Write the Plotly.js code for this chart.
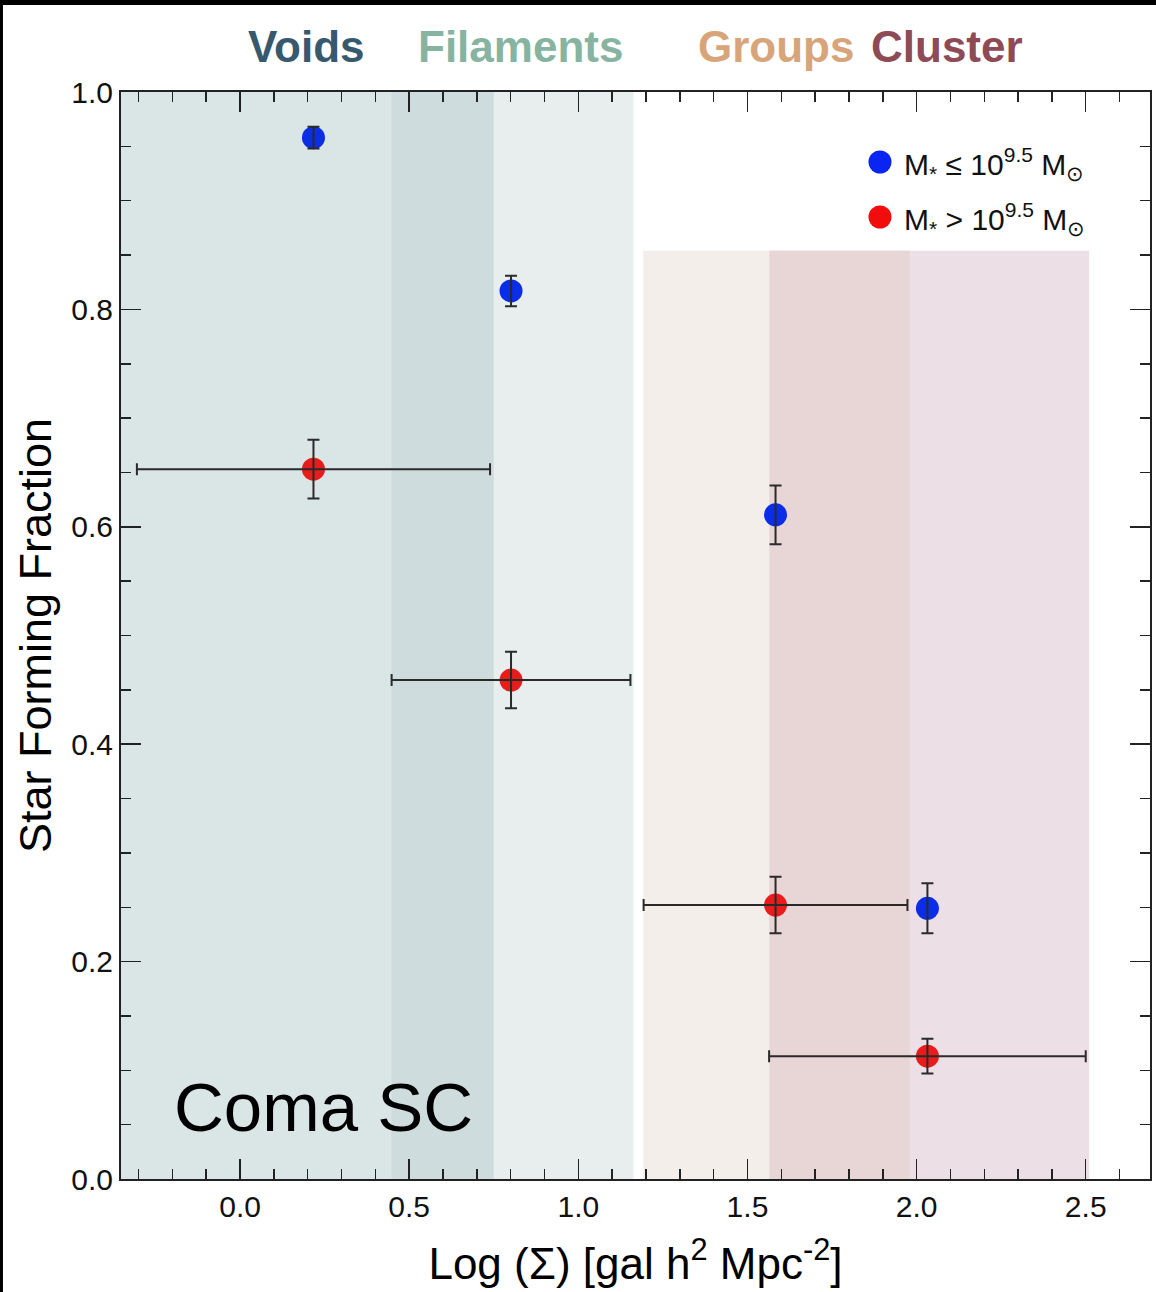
<!DOCTYPE html>
<html>
<head>
<meta charset="utf-8">
<script src="https://cdn.plot.ly/plotly-3.0.1.min.js"></script>
<style>
  html, body { margin: 0; padding: 0; background: #ffffff; }
  #chart { width: 1156px; height: 1292px; }
</style>
</head>
<body>
<div id="chart"></div>
<script>
// ---------------- data ----------------
const binCenters = [0.217, 0.801, 1.583, 2.032];          // Log(Sigma) bin centres
const lowMassFrac = [0.958, 0.817, 0.611, 0.249];         // M* <= 10^9.5
const lowMassErr  = [0.010, 0.014, 0.027, 0.023];
const highMassFrac = [0.653, 0.459, 0.252, 0.113];        // M* > 10^9.5
const highMassErr  = [0.027, 0.026, 0.026, 0.016];
const binHalfWidth = [0.522, 0.353, 0.390, 0.468];        // horizontal error bars

const seriesNames = [
  'M<sub>*</sub> \u2264 10<sup>9.5</sup> M<sub>\u2299</sub>',
  'M<sub>*</sub> > 10<sup>9.5</sup> M<sub>\u2299</sub>'
];

const environments = ['Voids', 'Filaments', 'Groups', 'Cluster'];
const envStart = [-0.352, 0.447, 1.192, 1.565];
const envEnd   = [0.750, 1.163, 1.980, 2.510];
const envTop   = [1.0, 1.0, 0.854, 0.854];
const envLabelX = [0.195, 0.828, 1.583, 2.090];

const xTickVals = [0, 0.5, 1.0, 1.5, 2.0, 2.5];
const xTickText = ['0.0', '0.5', '1.0', '1.5', '2.0', '2.5'];
const yTickVals = [0, 0.2, 0.4, 0.6, 0.8, 1.0];
const yTickText = ['0.0', '0.2', '0.4', '0.6', '0.8', '1.0'];

// ---------------- styles ----------------
const FONT = '"Liberation Sans", Arial, Helvetica, sans-serif';
const envFill = ['#dae5e6', '#e8eeee', '#f3eee9', '#ece0e6'];
const overlapFill = ['#cfdcdd', '#e8d6d7'];
const envText = ['#36596e', '#87b4a1', '#d8a479', '#8e4a55'];
const blue = '#0b2de6', red = '#e81c1c';
const legendBlue = '#0a24f2', legendRed = '#f20d0d';
const errColor = '#2a2a2a';
const AX = '#222222';

// ---------------- traces ----------------
const traces = [
  { x: binCenters, y: lowMassFrac, type: 'scatter', mode: 'markers', name: seriesNames[0],
    marker: { color: blue, size: 23 }, hoverinfo: 'x+y' },
  { x: binCenters, y: highMassFrac, type: 'scatter', mode: 'markers', name: seriesNames[1],
    marker: { color: red, size: 23 }, hoverinfo: 'x+y' },
  // error bars drawn above the markers
  { x: binCenters, y: lowMassFrac, type: 'scatter', mode: 'markers', showlegend: false,
    marker: { color: blue, size: 23, opacity: 0 }, hoverinfo: 'skip',
    error_y: { type: 'data', array: lowMassErr, color: errColor, thickness: 2, width: 6 } },
  { x: binCenters, y: highMassFrac, type: 'scatter', mode: 'markers', showlegend: false,
    marker: { color: red, size: 23, opacity: 0 }, hoverinfo: 'skip',
    error_y: { type: 'data', array: highMassErr, color: errColor, thickness: 2, width: 6 },
    error_x: { type: 'data', array: binHalfWidth, color: errColor, thickness: 2, width: 6 } }
];

// ---------------- shapes ----------------
const shapes = [];
environments.forEach((e, i) => {
  shapes.push({ type: 'rect', xref: 'x', yref: 'y', x0: envStart[i], x1: envEnd[i],
    y0: 0, y1: envTop[i], fillcolor: envFill[i], line: { width: 0 }, layer: 'below' });
});
// overlaps: Voids/Filaments and Groups/Cluster
[[0, 1], [2, 3]].forEach((p, k) => {
  const a = p[0], b = p[1];
  shapes.push({ type: 'rect', xref: 'x', yref: 'y',
    x0: Math.max(envStart[a], envStart[b]), x1: Math.min(envEnd[a], envEnd[b]),
    y0: 0, y1: Math.min(envTop[a], envTop[b]), fillcolor: overlapFill[k],
    line: { width: 0 }, layer: 'below' });
});
// custom legend markers
const legendY = [0.9356, 0.885];
[legendBlue, legendRed].forEach((c, i) => {
  shapes.push({ type: 'circle', xref: 'paper', yref: 'paper', xsizemode: 'pixel', ysizemode: 'pixel',
    xanchor: 0.7376, yanchor: legendY[i], x0: -11.5, x1: 11.5, y0: -11.5, y1: 11.5,
    fillcolor: c, line: { width: 0 }, layer: 'above' });
});
// black frame edges of the original picture
shapes.push({ type: 'rect', xref: 'paper', yref: 'paper', x0: -0.2, x1: 1.2, y0: 1.0800, y1: 1.2,
  fillcolor: '#000', line: { width: 0 }, layer: 'above' });
shapes.push({ type: 'rect', xref: 'paper', yref: 'paper', x0: -0.2, x1: -0.1147, y0: -0.2, y1: 1.2,
  fillcolor: '#000', line: { width: 0 }, layer: 'above' });

// ---------------- annotations ----------------
const annotations = [];
environments.forEach((e, i) => {
  annotations.push({ text: '<b>' + e + '</b>', xref: 'x', yref: 'paper', x: envLabelX[i], y: 1.0414,
    xanchor: 'center', yanchor: 'middle', showarrow: false,
    font: { family: FONT, size: 44, color: envText[i] } });
});
annotations.push({ text: 'Coma SC', xref: 'x', yref: 'y', x: 0.246, y: 0.066,
  xanchor: 'center', yanchor: 'middle', showarrow: false,
  font: { family: FONT, size: 69, color: '#000' } });
seriesNames.forEach((n, i) => {
  annotations.push({ text: n, xref: 'paper', yref: 'paper', x: 0.759, y: legendY[i] - 0.002,
    xanchor: 'left', yanchor: 'middle', showarrow: false,
    font: { family: FONT, size: 30, color: '#111' } });
});

// ---------------- layout ----------------
const axisCommon = {
  showline: true, linecolor: AX, linewidth: 2, mirror: 'ticks',
  ticks: 'inside', ticklen: 20, tickwidth: 1.5, tickcolor: AX,
  showgrid: false, zeroline: false,
  tickfont: { family: FONT, size: 30, color: '#111' }
};

const layout = {
  width: 1156, height: 1292,
  margin: { l: 121, r: 6, t: 92, b: 113 },
  paper_bgcolor: '#ffffff', plot_bgcolor: '#ffffff',
  showlegend: false,
  font: { family: FONT },
  xaxis: Object.assign({}, axisCommon, {
    range: [-0.352, 2.69], tickmode: 'array', tickvals: xTickVals, ticktext: xTickText,
    minor: { tickmode: 'linear', tick0: 0, dtick: 0.1, ticks: 'inside', ticklen: 10, tickwidth: 1.5, tickcolor: AX, showgrid: false },
    title: { text: 'Log (\u03A3) [gal h<sup>2</sup> Mpc<sup>-2</sup>]', font: { family: FONT, size: 44, color: '#000' }, standoff: 26 }
  }),
  yaxis: Object.assign({}, axisCommon, {
    range: [0, 1], tickmode: 'array', tickvals: yTickVals, ticktext: yTickText,
    minor: { tickmode: 'linear', tick0: 0, dtick: 0.05, ticks: 'inside', ticklen: 10, tickwidth: 1.5, tickcolor: AX, showgrid: false },
    title: { text: 'Star Forming Fraction', font: { family: FONT, size: 45, color: '#000' }, standoff: 6 }
  }),
  shapes: shapes,
  annotations: annotations
};

Plotly.newPlot('chart', traces, layout, { displayModeBar: false, staticPlot: true });
</script>
</body>
</html>
